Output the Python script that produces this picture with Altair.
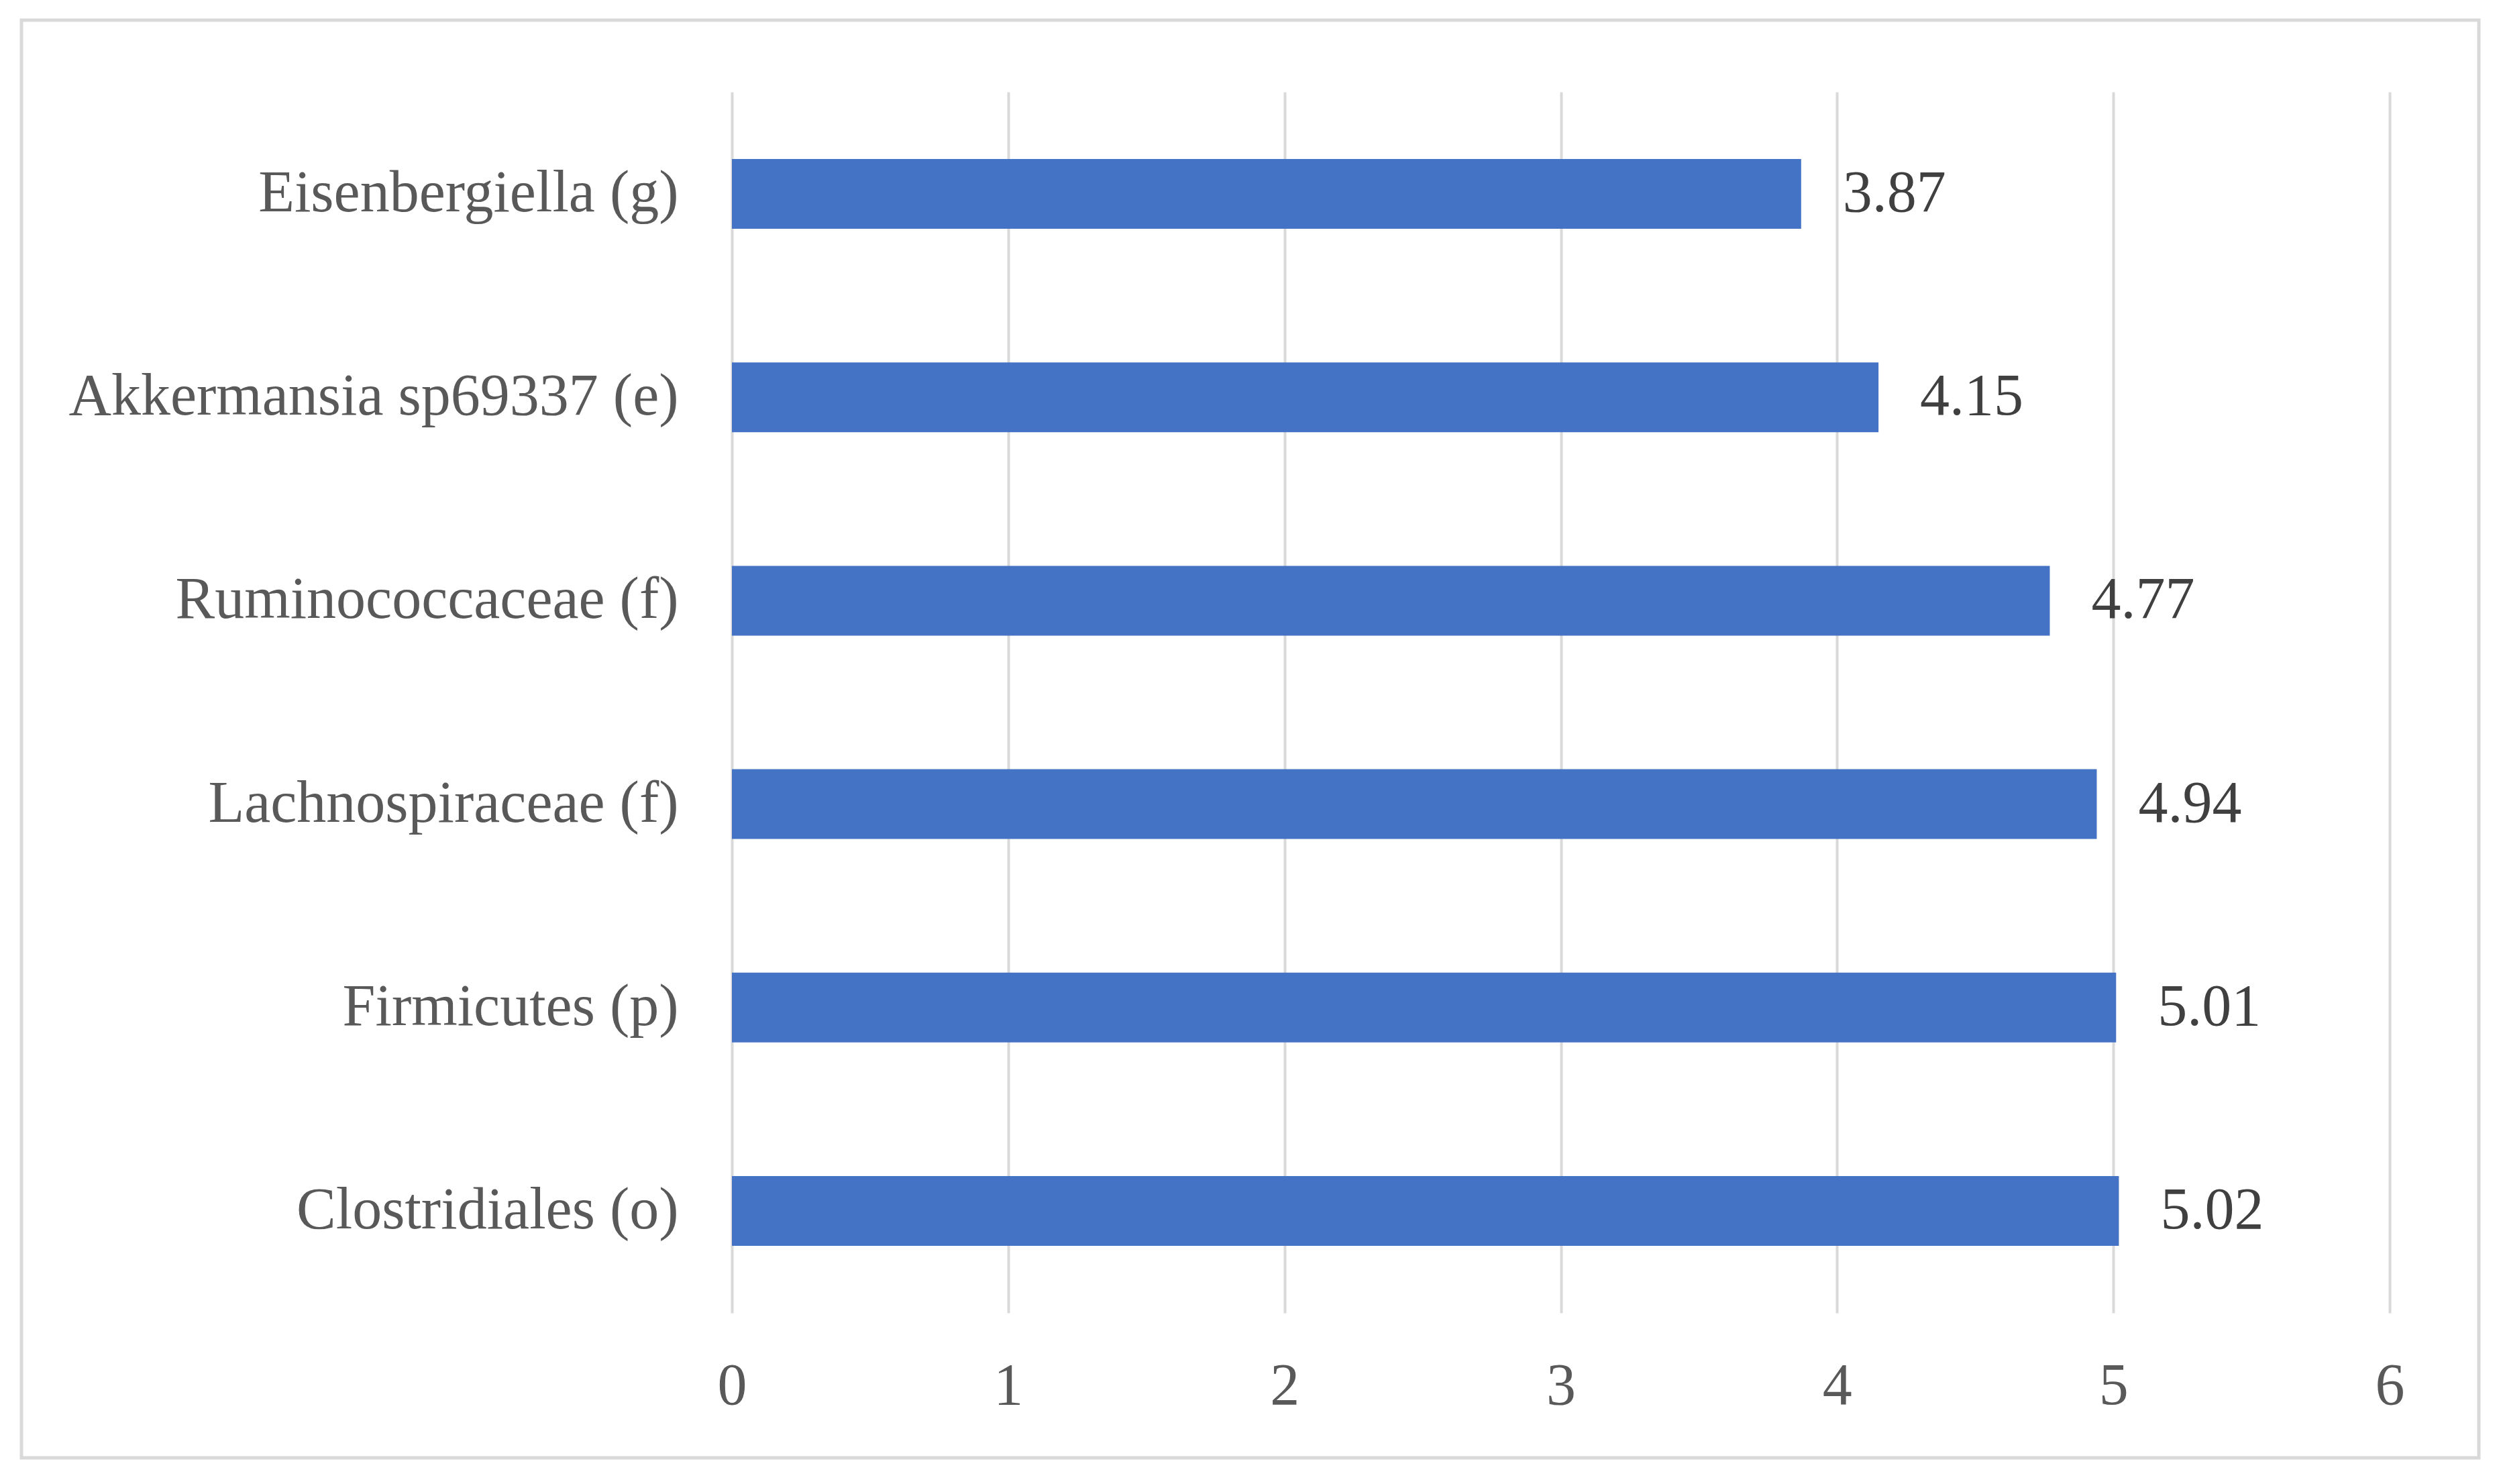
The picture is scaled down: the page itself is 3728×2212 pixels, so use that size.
import altair as alt
import pandas as pd

categories = [
    "Eisenbergiella (g)",
    "Akkermansia sp69337 (e)",
    "Ruminococcaceae (f)",
    "Lachnospiraceae (f)",
    "Firmicutes (p)",
    "Clostridiales (o)",
]
values = [3.87, 4.15, 4.77, 4.94, 5.01, 5.02]
x_ticks = [0, 1, 2, 3, 4, 5, 6]

df = pd.DataFrame({"taxon": categories, "value": values})
df["label"] = [f"{v:.2f}" for v in values]

W, H = 2471, 1820
FONT = "Liberation Serif"

y_enc = alt.Y(
    "taxon:N",
    sort=categories,
    title=None,
    scale=alt.Scale(paddingInner=0.657, paddingOuter=0.33),
    axis=alt.Axis(
        labelFont=FONT,
        labelFontSize=88,
        labelColor="#595959",
        labelPadding=80,
        ticks=False,
        domain=False,
        grid=False,
        labelLimit=2000,
    ),
)
x_enc = alt.X(
    "value:Q",
    title=None,
    scale=alt.Scale(domain=[0, 6], nice=False),
    axis=alt.Axis(
        values=x_ticks,
        format="d",
        labelFlush=False,
        labelFont=FONT,
        labelFontSize=88,
        labelColor="#595959",
        labelPadding=65,
        ticks=False,
        domain=False,
        grid=True,
        gridColor="#D9D9D9",
        gridWidth=4,
    ),
)

border = alt.Chart(pd.DataFrame({"d": [0]})).mark_rect(
    filled=False, stroke="#D9D9D9", strokeWidth=5
).encode(
    x=alt.value(-1059), x2=alt.value(2604),
    y=alt.value(-107), y2=alt.value(2036),
)

bars = alt.Chart(df).mark_bar(color="#4472C4").encode(x=x_enc, y=y_enc)

texts = alt.Chart(df).mark_text(
    align="left", baseline="middle", dx=62, font=FONT, fontSize=88, color="#404040"
).encode(x="value:Q", y=alt.Y("taxon:N", sort=categories), text="label:N")

chart = alt.layer(border, bars, texts).properties(
    width=W,
    height=H,
    autosize=alt.AutoSizeParams(type="none"),
    padding={"left": 1083, "top": 129, "right": 150, "bottom": 240},
    background="white",
).configure_view(stroke=None)

chart.save("out.html", embed_options={"renderer": "svg", "actions": False})
